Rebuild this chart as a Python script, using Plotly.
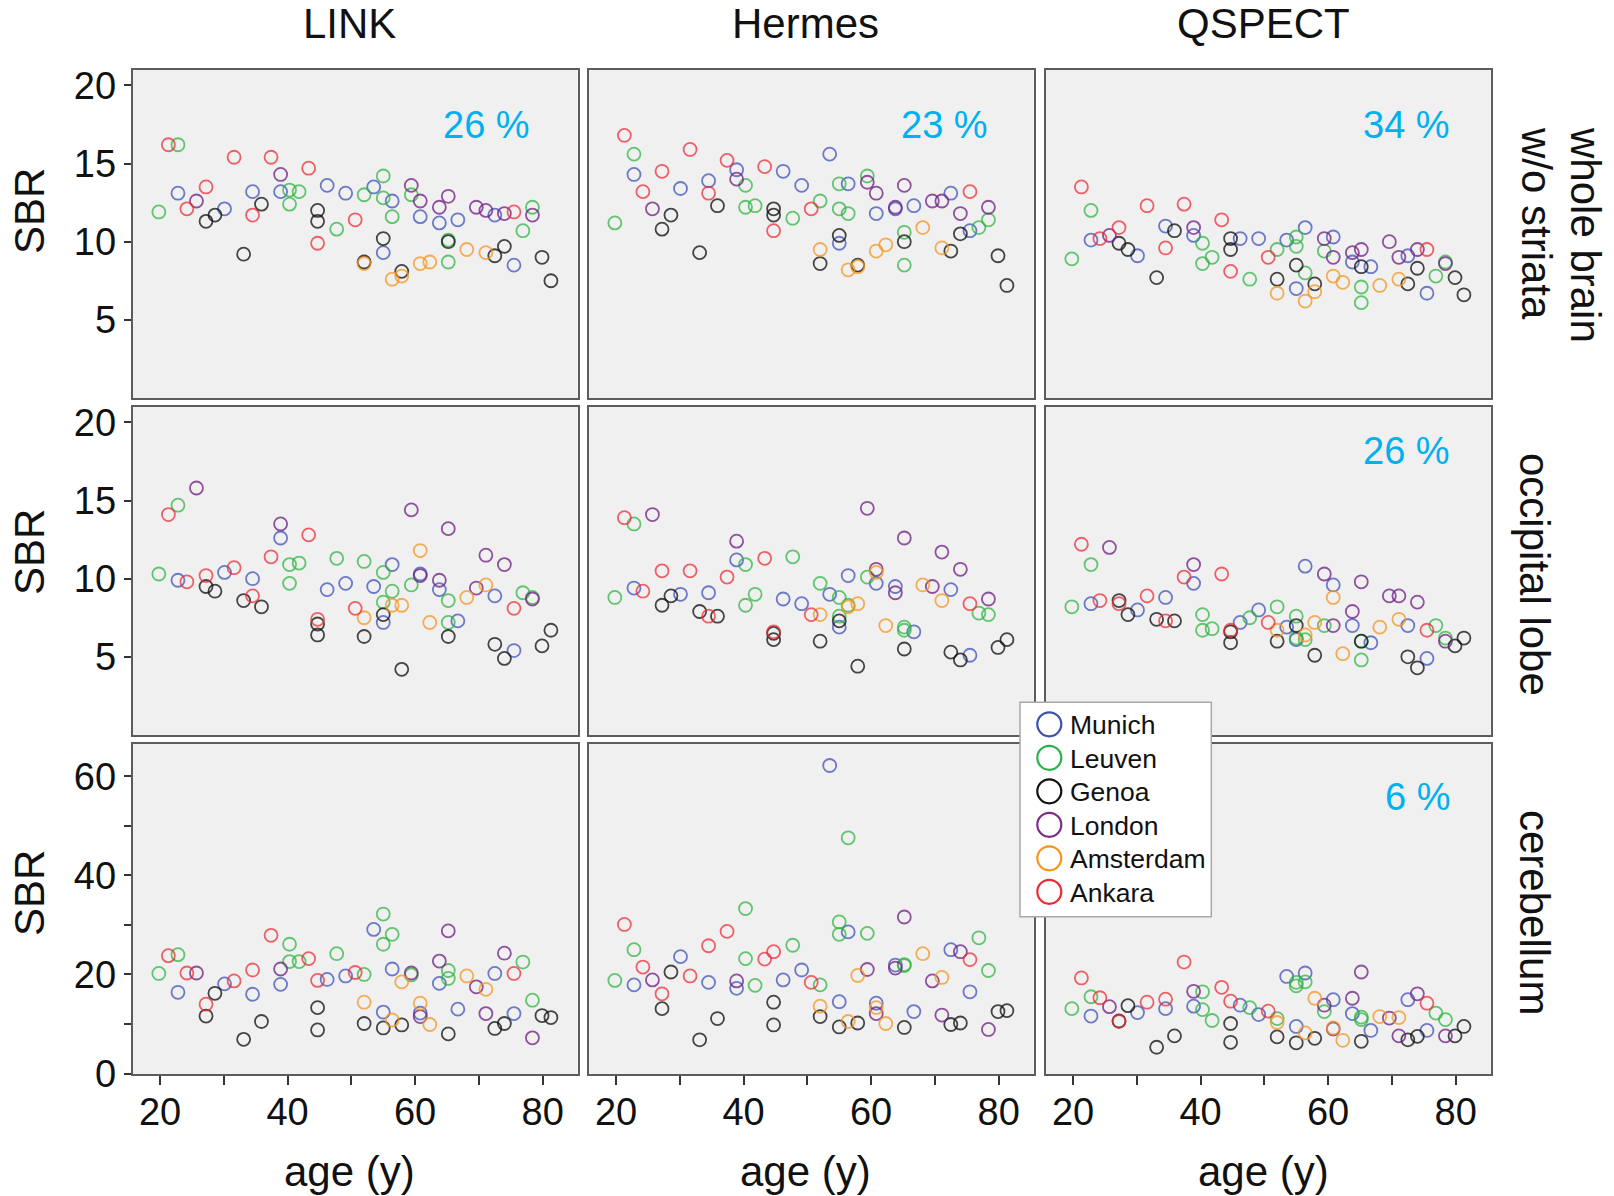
import plotly.graph_objects as go

W, H = 1614, 1196
FONT = "Liberation Sans, Arial, sans-serif"
FRAME = "#5c5c5c"
TXT = "#111111"

sites = ["Munich", "Leuven", "Genoa", "London", "Amsterdam", "Ankara"]
marker_colors = {
    "Munich": "rgba(55,75,185,0.72)",
    "Leuven": "rgba(40,180,60,0.72)",
    "Genoa": "rgba(20,20,20,0.78)",
    "London": "rgba(115,35,135,0.78)",
    "Amsterdam": "rgba(245,150,30,0.75)",
    "Ankara": "rgba(235,40,50,0.72)",
}
legend_colors = {
    "Munich": "#3a50b4",
    "Leuven": "#2ab34a",
    "Genoa": "#111111",
    "London": "#7b2c8c",
    "Amsterdam": "#f7941d",
    "Ankara": "#ec2a33",
}

# subject ages (years) and site of each subject
age = [19.8, 21.3, 22.8, 22.8, 24.2, 25.7, 27.2, 27.2, 28.6, 30.1,
       31.6, 33.1, 34.5, 34.5, 35.9, 37.4, 38.9, 38.9, 40.3, 40.3,
       41.8, 43.3, 44.7, 44.7, 44.7, 46.2, 47.7, 49.1, 50.6, 52.0,
       52.0, 52.0, 53.5, 55.0, 55.0, 55.0, 55.0, 56.4, 56.4, 56.4,
       57.9, 57.9, 59.4, 59.4, 60.8, 60.8, 60.8, 62.3, 63.8, 63.8,
       65.2, 65.2, 65.2, 65.2, 66.7, 68.1, 69.6, 71.1, 71.1, 72.5,
       72.5, 74.0, 74.0, 75.5, 75.5, 76.9, 78.4, 78.4, 79.9, 81.3]
site = ["Leuven", "Ankara", "Leuven", "Munich", "Ankara", "London", "Ankara", "Genoa", "Genoa", "Munich",
        "Ankara", "Genoa", "Munich", "Ankara", "Genoa", "Ankara", "London", "Munich", "Leuven", "Leuven",
        "Leuven", "Ankara", "Genoa", "Genoa", "Ankara", "Munich", "Leuven", "Munich", "Ankara", "Leuven",
        "Genoa", "Amsterdam", "Munich", "Leuven", "Leuven", "Genoa", "Munich", "Munich", "Leuven", "Amsterdam",
        "Genoa", "Amsterdam", "London", "Leuven", "London", "Munich", "Amsterdam", "Amsterdam", "London", "Munich",
        "London", "Genoa", "Leuven", "Leuven", "Munich", "Amsterdam", "London", "London", "Amsterdam", "Munich",
        "Genoa", "London", "Genoa", "Ankara", "Munich", "Leuven", "Leuven", "London", "Genoa", "Genoa"]

# SBR values: whole brain w/o striata
link_wb = [11.9, 16.2, 16.2, 13.1, 12.1, 12.6, 13.5, 11.3, 11.7, 12.1,
           15.4, 9.2, 13.2, 11.7, 12.4, 15.4, 14.3, 13.2, 13.3, 12.4,
           13.2, 14.7, 12.0, 11.3, 9.9, 13.6, 10.8, 13.1, 11.4, 13.0,
           8.7, 8.6, 13.5, 14.2, 12.8, 10.2, 9.3, 12.6, 11.6, 7.6,
           8.1, 7.8, 13.6, 13.0, 12.6, 11.6, 8.6, 8.7, 12.2, 11.2,
           12.9, 10.0, 10.1, 8.7, 11.4, 9.5, 12.2, 12.0, 9.3, 11.7,
           9.1, 11.8, 9.7, 11.9, 8.5, 10.7, 12.2, 11.7, 9.0, 7.5]
hermes_wb = [11.2, 16.8, 15.6, 14.3, 13.2, 12.1, 14.5, 10.8, 11.7, 13.4,
             15.9, 9.3, 13.9, 13.1, 12.3, 15.2, 14.0, 14.6, 13.6, 12.2,
             12.3, 14.8, 12.1, 11.7, 10.7, 14.5, 11.5, 13.6, 12.1, 12.6,
             8.6, 9.5, 15.6, 13.7, 12.1, 10.4, 9.9, 13.7, 11.8, 8.2,
             8.5, 8.4, 13.8, 14.2, 13.1, 11.8, 9.4, 9.8, 12.2, 12.1,
             13.6, 10.0, 10.6, 8.5, 12.3, 10.9, 12.6, 12.6, 9.6, 13.1,
             9.4, 11.8, 10.5, 13.2, 10.7, 10.9, 11.4, 12.2, 9.1, 7.2]
qspect_wb = [8.9, 13.5, 12.0, 10.1, 10.2, 10.4, 10.9, 9.9, 9.5, 9.1,
             12.3, 7.7, 11.0, 9.6, 10.7, 12.4, 10.9, 10.4, 9.9, 8.6,
             9.0, 11.4, 10.2, 9.5, 8.1, 10.2, 7.6, 10.2, 9.0, 9.5,
             7.6, 6.7, 10.1, 10.3, 9.7, 8.5, 7.0, 10.9, 8.0, 6.2,
             7.3, 6.8, 10.2, 9.4, 9.0, 10.3, 7.8, 7.4, 9.3, 8.7,
             9.5, 8.4, 7.1, 6.1, 8.4, 7.2, 10.0, 9.0, 7.6, 9.1,
             7.3, 9.5, 8.3, 9.5, 6.7, 7.8, 8.7, 8.6, 7.7, 6.6]

# SBR values: occipital lobe
link_occ = [10.3, 14.1, 14.7, 9.9, 9.8, 15.8, 10.2, 9.5, 9.2, 10.4,
            10.7, 8.6, 10.0, 8.9, 8.2, 11.4, 13.5, 12.6, 10.9, 9.7,
            11.0, 12.8, 7.1, 6.4, 7.4, 9.3, 11.3, 9.7, 8.1, 11.1,
            6.3, 7.5, 9.5, 10.4, 8.5, 7.7, 7.2, 10.9, 9.2, 8.3,
            4.2, 8.3, 14.4, 9.6, 10.2, 10.3, 11.8, 7.2, 9.9, 9.3,
            13.2, 6.3, 8.6, 7.2, 7.3, 8.8, 9.4, 11.5, 9.6, 8.9,
            5.8, 10.9, 4.9, 8.1, 5.4, 9.1, 8.8, 8.7, 5.7, 6.7]
hermes_occ = [8.8, 13.9, 13.5, 9.4, 9.2, 14.1, 10.5, 8.3, 8.9, 9.0,
              10.5, 7.9, 9.1, 7.6, 7.6, 10.1, 12.4, 11.2, 10.9, 8.3,
              9.0, 11.3, 6.5, 6.1, 6.6, 8.7, 11.4, 8.4, 7.7, 9.7,
              6.0, 7.7, 9.0, 8.8, 7.6, 7.3, 6.9, 10.2, 8.3, 8.2,
              4.4, 8.4, 14.5, 10.1, 10.6, 9.7, 10.4, 7.0, 9.1, 9.5,
              12.6, 5.5, 6.9, 6.7, 6.6, 9.6, 9.5, 11.7, 8.6, 9.3,
              5.3, 10.6, 4.8, 8.4, 5.1, 7.8, 7.7, 8.7, 5.6, 6.1]
qspect_occ = [8.2, 12.2, 10.9, 8.4, 8.6, 12.0, 8.4, 8.6, 7.7, 8.0,
              8.9, 7.4, 8.8, 7.3, 7.3, 10.1, 10.9, 9.7, 7.7, 6.7,
              6.8, 10.3, 6.6, 5.9, 6.7, 7.2, 7.5, 8.0, 7.2, 8.2,
              6.0, 6.7, 6.9, 7.6, 6.2, 7.0, 6.1, 10.8, 6.1, 6.4,
              5.1, 7.2, 10.3, 7.0, 7.0, 9.6, 8.8, 5.2, 7.9, 7.0,
              9.8, 6.0, 6.0, 4.8, 5.9, 6.9, 8.9, 8.9, 7.4, 7.0,
              5.0, 8.5, 4.3, 6.7, 4.9, 7.0, 6.2, 6.0, 5.7, 6.2]

# SBR values: cerebellum
link_cb = [20.2, 23.8, 24.0, 16.4, 20.3, 20.3, 14.0, 11.6, 16.2, 18.1,
           18.7, 6.9, 16.0, 20.9, 10.5, 27.9, 21.1, 18.0, 26.1, 22.6,
           22.6, 23.2, 13.3, 8.8, 18.8, 19.0, 24.2, 19.7, 20.4, 20.0,
           10.1, 14.4, 29.1, 32.2, 26.1, 9.2, 12.4, 21.1, 28.1, 10.8,
           9.8, 18.5, 20.3, 19.9, 11.5, 12.2, 14.2, 9.9, 22.7, 18.2,
           28.8, 8.0, 20.8, 19.2, 13.0, 19.7, 17.5, 12.1, 17.0, 20.2,
           9.1, 24.3, 10.1, 20.2, 12.1, 22.5, 14.8, 7.2, 11.7, 11.3]
hermes_cb = [18.8, 30.1, 25.0, 17.9, 21.5, 18.9, 16.1, 13.1, 20.5, 23.6,
             19.7, 6.8, 18.4, 25.8, 11.1, 28.7, 18.7, 17.2, 33.3, 23.2,
             17.8, 23.1, 14.4, 9.8, 24.6, 18.9, 25.9, 20.9, 18.4, 17.9,
             11.5, 13.6, 62.2, 30.6, 28.1, 9.4, 14.5, 28.6, 47.6, 10.5,
             10.2, 19.8, 21.0, 28.3, 12.1, 14.2, 13.3, 10.1, 21.3, 21.9,
             31.6, 9.3, 22.0, 21.8, 12.5, 24.2, 18.7, 11.8, 19.4, 25.0,
             9.9, 24.6, 10.2, 23.0, 16.5, 27.4, 20.8, 8.9, 12.5, 12.7]
qspect_cb = [13.1, 19.3, 15.5, 11.6, 15.3, 13.5, 10.5, 10.6, 13.7, 12.3,
             14.4, 5.3, 13.1, 15.0, 7.6, 22.5, 16.6, 13.6, 16.5, 12.9,
             10.7, 17.4, 10.1, 6.3, 14.6, 13.8, 13.3, 11.9, 12.6, 11.1,
             7.4, 10.3, 19.6, 18.4, 17.7, 6.2, 9.5, 20.3, 18.5, 8.2,
             7.1, 15.2, 13.8, 12.5, 9.0, 14.9, 9.2, 6.7, 15.2, 12.1,
             20.5, 6.5, 11.4, 10.9, 8.7, 11.5, 11.2, 7.6, 11.3, 14.9,
             6.8, 16.1, 7.5, 14.2, 8.7, 12.2, 10.9, 7.6, 7.6, 9.5]

methods = ["LINK", "Hermes", "QSPECT"]
region_lines = [["whole brain", "w/o striata"], ["occipital lobe"], ["cerebellum"]]
values = [[link_wb, hermes_wb, qspect_wb],
          [link_occ, hermes_occ, qspect_occ],
          [link_cb, hermes_cb, qspect_cb]]
percent_text = {(0, 0): "26 %", (0, 1): "23 %", (0, 2): "34 %",
                (1, 2): "26 %", (2, 2): "6 %"}

# pixel layout of the panels
col_px = [(132.7, 577.7), (588.7, 1033.7), (1045.7, 1490.7)]
row_px = [(69.7, 398.0), (406.7, 735.0), (743.7, 1074.0)]

TICK_FS = 38
LABEL_FS = 42

fig = go.Figure()
layout = {}
for r in range(3):
    for c in range(3):
        n = r * 3 + c + 1
        xs = "x" if n == 1 else f"x{n}"
        ys = "y" if n == 1 else f"y{n}"
        vals = values[r][c]
        for s in sites:
            idx = [i for i in range(len(age)) if site[i] == s]
            fig.add_trace(go.Scatter(
                x=[age[i] for i in idx], y=[vals[i] for i in idx],
                mode="markers", name=s, showlegend=False, hoverinfo="skip",
                marker=dict(symbol="circle-open", size=13, color=marker_colors[s],
                            line=dict(width=1.8)),
                xaxis=xs, yaxis=ys))
        x0, x1 = col_px[c]
        y0, y1 = row_px[r]
        xax = dict(domain=[x0 / W, x1 / W], range=[15.7, 85.5], anchor=ys,
                   showline=True, mirror=True, linecolor=FRAME, linewidth=2,
                   showgrid=False, zeroline=False, fixedrange=True, automargin=False)
        if r == 2:
            xax.update(ticks="outside", ticklen=9, tickwidth=1.5, tickcolor="#333",
                       tickmode="linear", tick0=20, dtick=20, showticklabels=True,
                       ticklabelstandoff=-6,
                       tickfont=dict(family=FONT, size=TICK_FS, color=TXT),
                       minor=dict(ticks="outside", ticklen=9, tickwidth=1.5,
                                  tickcolor="#333", tick0=20, dtick=10, showgrid=False))
        else:
            xax.update(ticks="", showticklabels=False)
        yrange = [-0.1, 66.6] if r == 2 else [0, 21]
        yax = dict(domain=[1 - y1 / H, 1 - y0 / H], range=yrange, anchor=xs,
                   showline=True, mirror=True, linecolor=FRAME, linewidth=2,
                   showgrid=False, zeroline=False, fixedrange=True, automargin=False)
        if c == 0:
            if r == 2:
                yax.update(ticks="outside", ticklen=7, tickwidth=1.5, tickcolor="#333",
                           tickmode="linear", tick0=0, dtick=20,
                           tickfont=dict(family=FONT, size=TICK_FS, color=TXT),
                           minor=dict(ticks="outside", ticklen=7, tickwidth=1.5,
                                      tickcolor="#333", tick0=0, dtick=10, showgrid=False))
            else:
                yax.update(ticks="outside", ticklen=7, tickwidth=1.5, tickcolor="#333",
                           tickmode="array", tickvals=[5, 10, 15, 20],
                           tickfont=dict(family=FONT, size=TICK_FS, color=TXT))
        else:
            yax.update(ticks="", showticklabels=False)
        layout["xaxis" if n == 1 else f"xaxis{n}"] = xax
        layout["yaxis" if n == 1 else f"yaxis{n}"] = yax

ann = []
def px(xp, yp):
    return xp / W, 1 - yp / H

# column titles and x titles
for c, (cx, m) in enumerate(zip([349, 805, 1263], methods)):
    x, y = px(cx, 24)
    ann.append(dict(text=m, x=x, y=y, xref="paper", yref="paper", showarrow=False,
                    xanchor="center", yanchor="middle", font=dict(family=FONT, size=LABEL_FS, color=TXT)))
    x, y = px(cx, 1171)
    ann.append(dict(text="age (y)", x=x, y=y, xref="paper", yref="paper", showarrow=False,
                    xanchor="center", yanchor="middle", font=dict(family=FONT, size=LABEL_FS, color=TXT)))
# y titles
for cy in [211, 552, 893]:
    x, y = px(29, cy)
    ann.append(dict(text="SBR", x=x, y=y, xref="paper", yref="paper", showarrow=False,
                    textangle=-90, xanchor="center", yanchor="middle",
                    font=dict(family=FONT, size=LABEL_FS, color=TXT)))
# row labels (rotated, reading top to bottom)
row_label_pos = [[(1586, 235), (1537, 223)], [(1535, 574)], [(1535, 912)]]
for lines, poss in zip(region_lines, row_label_pos):
    for lab, (cx, cy) in zip(lines, poss):
        x, y = px(cx, cy)
        ann.append(dict(text=lab, x=x, y=y, xref="paper", yref="paper", showarrow=False,
                        textangle=90, xanchor="center", yanchor="middle",
                        font=dict(family=FONT, size=LABEL_FS, color=TXT)))
# percentages
pct_pos = {(0, 0): (532, 125), (0, 1): (990, 125), (0, 2): (1452, 125),
           (1, 2): (1452, 451), (2, 2): (1452, 797)}
for key, txt in percent_text.items():
    x, y = px(*pct_pos[key])
    ann.append(dict(text=txt, x=x, y=y, xref="paper", yref="paper", showarrow=False,
                    xanchor="right", yanchor="middle",
                    font=dict(family=FONT, size=38, color="#00b0f0")))

# legend box
shapes = []
lx0, ly0 = px(1020, 702.3)
lx1, ly1 = px(1211.3, 916.7)
shapes.append(dict(type="rect", xref="paper", yref="paper", x0=lx0, x1=lx1, y0=ly1, y1=ly0,
                   fillcolor="white", line=dict(color="#a8a8a8", width=1.5), layer="above"))
for i, s in enumerate(sites):
    cyp = 724.3 + i * 33.5
    cxp = 1049.3
    rr = 12
    a0, b0 = px(cxp - rr, cyp + rr)
    a1, b1 = px(cxp + rr, cyp - rr)
    shapes.append(dict(type="circle", xref="paper", yref="paper", x0=a0, x1=a1, y0=b0, y1=b1,
                       line=dict(color=legend_colors[s], width=2.2),
                       fillcolor="rgba(0,0,0,0)", layer="above"))
    x, y = px(1068, cyp + 1)
    ann.append(dict(text=s, x=x, y=y, xref="paper", yref="paper", showarrow=False,
                    xanchor="left", yanchor="middle", font=dict(family=FONT, size=26.5, color=TXT)))

fig.update_layout(width=W, height=H,
                  margin=dict(l=0, r=0, t=0, b=0, pad=0, autoexpand=False),
                  paper_bgcolor="white", plot_bgcolor="#f0f0f0",
                  showlegend=False, annotations=ann, shapes=shapes, **layout)

post = ("var gd=document.getElementById('{plot_id}');"
        "document.documentElement.style.margin='0';document.body.style.margin='0';"
        "document.documentElement.style.overflow='hidden';document.body.style.overflow='hidden';"
        "gd.style.position='fixed';gd.style.left='0px';gd.style.top='0px';")
fig.write_html("out.html", config={"displayModeBar": False}, post_script=post)
